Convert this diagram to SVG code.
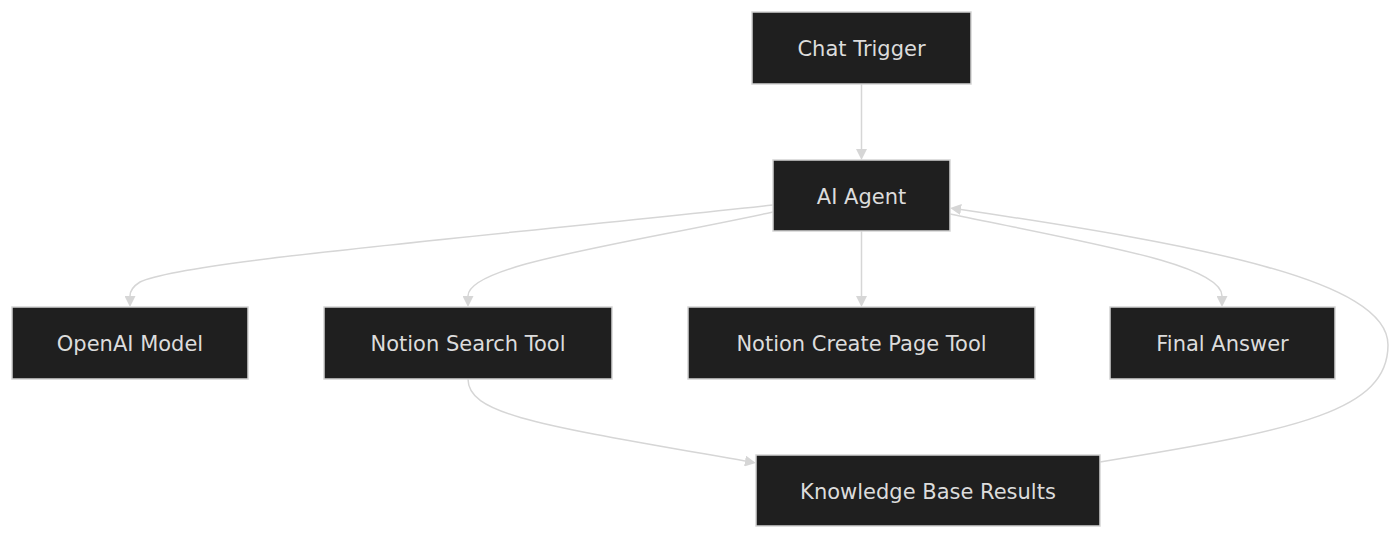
<svg xmlns="http://www.w3.org/2000/svg" width="1400" height="539" viewBox="0 0 1400 539">
<style>
.node rect{fill:#1f1f1f;stroke:#d4d4d4;stroke-width:1.5}
.node text{fill:#dcdcdc;font-family:"DejaVu Sans","Liberation Sans",sans-serif;font-size:21px;text-anchor:middle;dominant-baseline:central}
.edges path{fill:none;stroke:#d6d6d6;stroke-width:1.5}
</style>
<defs>
<marker id="arr" viewBox="0 0 10 10" refX="0" refY="5" markerWidth="11" markerHeight="11" markerUnits="userSpaceOnUse" orient="auto">
<path d="M0,0 L10,5 L0,10 Z" fill="#d6d6d6"/>
</marker>
</defs>
<rect width="1400" height="539" fill="#ffffff"/>
<g class="edges">
<path d="M861.5,84 L861.5,149" marker-end="url(#arr)"/>
<path d="M773,205 C450,240 180,262 140,282 C132,287 130,292 130,296" marker-end="url(#arr)"/>
<path d="M773,212 C620,245 468,265 468,296" marker-end="url(#arr)"/>
<path d="M861.5,231 L861.5,296" marker-end="url(#arr)"/>
<path d="M950,214 C1100,245 1222,265 1222,296" marker-end="url(#arr)"/>
<path d="M468,379 C468,415 540,425 745,461" marker-end="url(#arr)"/>
<path d="M1100,462 C1300,430 1388,410 1388,345 C1388,280 1200,245 961,209.5" marker-end="url(#arr)"/>
</g>
<g id="chat" class="node"><rect x="752" y="12" width="219" height="72"/><text x="861.5" y="49">Chat Trigger</text></g>
<g id="agent" class="node"><rect x="773" y="160" width="177" height="71"/><text x="861.5" y="197">AI Agent</text></g>
<g id="openai" class="node"><rect x="12" y="307" width="236" height="72"/><text x="130" y="344">OpenAI Model</text></g>
<g id="search" class="node"><rect x="324" y="307" width="288" height="72"/><text x="468" y="344">Notion Search Tool</text></g>
<g id="create" class="node"><rect x="688" y="307" width="347" height="72"/><text x="861.5" y="344">Notion Create Page Tool</text></g>
<g id="final" class="node"><rect x="1110" y="307" width="225" height="72"/><text x="1222.5" y="344">Final Answer</text></g>
<g id="kb" class="node"><rect x="756" y="455" width="344" height="71"/><text x="928" y="491.5">Knowledge Base Results</text></g>
</svg>
